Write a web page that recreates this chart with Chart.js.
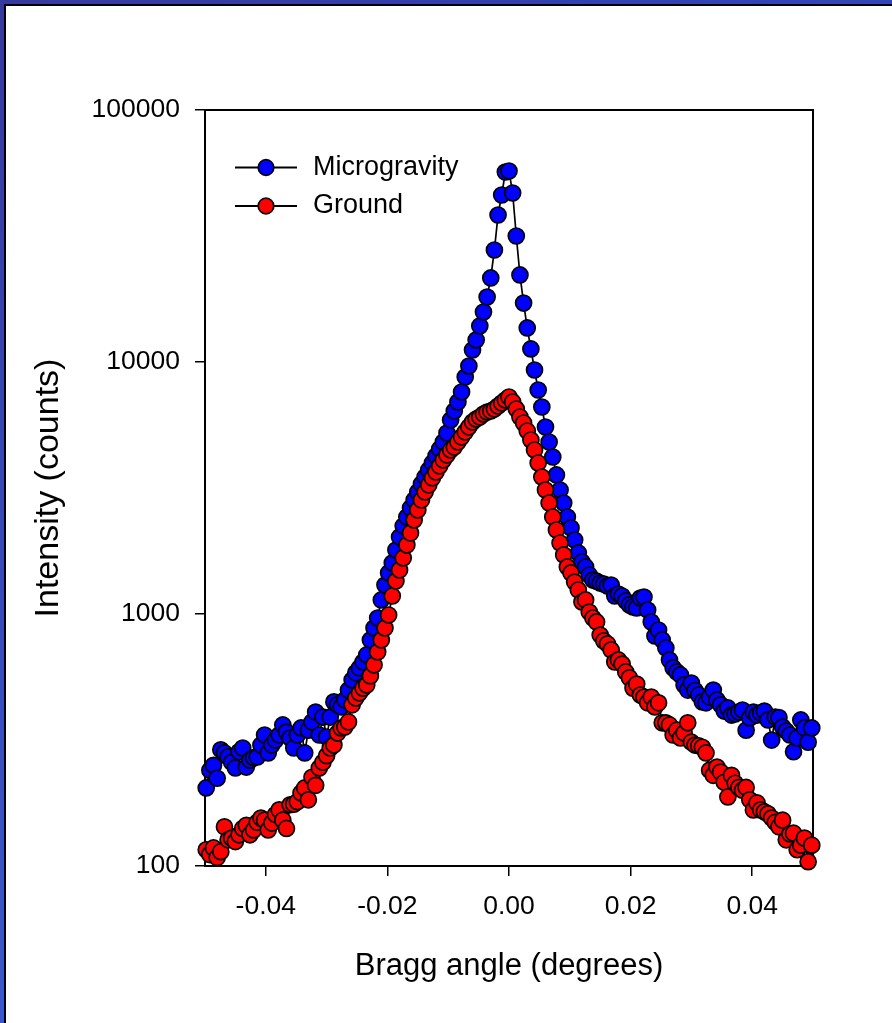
<!DOCTYPE html>
<html>
<head>
<meta charset="utf-8">
<script src="https://cdn.jsdelivr.net/npm/chart.js@4/dist/chart.umd.min.js"></script>
<style>
html,body{margin:0;padding:0;background:#fff;width:892px;height:1023px;overflow:hidden;}
#frameTop{position:absolute;left:0;top:0;width:892px;height:4px;background:linear-gradient(to right,#37399c,#3345b8);}
#frameLeft{position:absolute;left:0;top:0;width:4px;height:1023px;background:linear-gradient(to bottom,#37399c,#3a58cc);}
#lineTop{position:absolute;left:4px;top:4px;width:888px;height:2px;background:#000;}
#lineLeft{position:absolute;left:4px;top:4px;width:2px;height:1019px;background:#000;}
#c{position:absolute;left:0;top:0;}
</style>
</head>
<body>
<div id="frameTop"></div><div id="frameLeft"></div><div id="lineTop"></div><div id="lineLeft"></div>
<canvas id="c" width="892" height="1023"></canvas>
<script>
// ---- data ----
const seriesNames = ['Microgravity', 'Ground'];

const braggAngle = [
 -0.0498,-0.0492,-0.0486,-0.0480,-0.0474,-0.0468,-0.0462,-0.0456,-0.0450,-0.0444,
 -0.0438,-0.0432,-0.0426,-0.0420,-0.0414,-0.0408,-0.0402,-0.0396,-0.0390,-0.0384,
 -0.0378,-0.0372,-0.0366,-0.0360,-0.0354,-0.0348,-0.0342,-0.0336,-0.0330,-0.0324,
 -0.0318,-0.0312,-0.0306,-0.0300,-0.0294,-0.0288,-0.0282,-0.0276,-0.0270,-0.0264,
 -0.0258,-0.0252,-0.0246,-0.0240,-0.0234,-0.0228,-0.0222,-0.0216,-0.0210,-0.0204,
 -0.0198,-0.0192,-0.0186,-0.0180,-0.0174,-0.0168,-0.0162,-0.0156,-0.0150,-0.0144,
 -0.0138,-0.0132,-0.0126,-0.0120,-0.0114,-0.0108,-0.0102,-0.0096,-0.0090,-0.0084,
 -0.0078,-0.0072,-0.0066,-0.0060,-0.0054,-0.0048,-0.0042,-0.0036,-0.0030,-0.0024,
 -0.0018,-0.0012,-0.0006,0.0000,0.0006,0.0012,0.0018,0.0024,0.0030,0.0036,
 0.0042,0.0048,0.0054,0.0060,0.0066,0.0072,0.0078,0.0084,0.0090,0.0096,
 0.0102,0.0108,0.0114,0.0120,0.0126,0.0132,0.0138,0.0144,0.0150,0.0156,
 0.0162,0.0168,0.0174,0.0180,0.0186,0.0192,0.0198,0.0204,0.0210,0.0216,
 0.0222,0.0228,0.0234,0.0240,0.0246,0.0252,0.0258,0.0264,0.0270,0.0276,
 0.0282,0.0288,0.0294,0.0300,0.0306,0.0312,0.0318,0.0324,0.0330,0.0336,
 0.0342,0.0348,0.0354,0.0360,0.0366,0.0372,0.0378,0.0384,0.0390,0.0396,
 0.0402,0.0408,0.0414,0.0420,0.0426,0.0432,0.0438,0.0444,0.0450,0.0456,
 0.0462,0.0468,0.0474,0.0480,0.0486,0.0492,0.0498
];

const microgravity = [
 204,240,251,223,289,281,271,258,245,284,
 294,247,263,269,271,302,331,281,302,316,
 331,363,340,322,294,331,353,281,346,373,
 408,331,390,325,390,448,436,428,456,499,
 547,584,611,645,688,789,880,964,1137,1303,
 1455,1594,1795,2021,2234,2426,2635,2834,3049,3280,
 3497,3728,3974,4237,4517,4814,5228,5886,6390,6939,
 7603,8721,9637,11160,12230,13900,15790,18110,21550,27830,
 38320,46000,56750,57270,46850,31630,22150,17140,13650,11270,
 9296,7743,6630,5522,4814,4198,3562,3105,2757,2426,
 2194,1966,1747,1608,1537,1428,1364,1350,1327,1315,
 1291,1303,1179,1200,1179,1127,1086,1067,1057,1157,
 1168,1037,930,818,864,789,733,657,611,589,
 573,523,499,532,497,477,448,444,468,499,
 456,436,412,424,397,401,408,416,346,387,
 408,397,405,412,380,316,390,388,356,343,
 331,284,322,380,353,310,353
];

const ground = [
 116,111,118,108,114,143,127,129,125,133,
 141,145,133,139,149,155,152,139,148,160,
 167,152,141,175,176,180,195,204,183,225,
 209,245,258,274,294,302,337,353,356,373,
 436,464,486,508,523,568,628,707,789,880,
 991,1179,1352,1495,1669,1878,2096,2360,2586,2834,
 3049,3250,3466,3660,3866,4084,4275,4475,4600,4814,
 5040,5276,5522,5780,5941,6050,6217,6332,6390,6510,
 6690,6876,7067,7264,6939,6510,6050,5727,5324,4903,
 4475,3974,3497,3105,2757,2426,2154,1913,1715,1537,
 1455,1339,1245,1116,1137,1018,964,930,825,782,
 761,720,645,657,633,589,558,508,527,477,
 468,444,468,428,444,370,370,363,331,346,
 322,337,370,310,302,300,296,281,240,229,
 247,236,215,188,229,213,205,200,205,183,
 167,178,167,164,161,155,149,143,152,127,
 134,135,116,121,129,104,121
];

const xTickValues = [-0.04, -0.02, 0, 0.02, 0.04];
const xTickLabels = ['-0.04', '-0.02', '0.00', '0.02', '0.04'];
const yTickValues = [100, 1000, 10000, 100000];
const yTickLabels = ['100', '1000', '10000', '100000'];
const xRange = [-0.05, 0.05];
const yRange = [100, 100000];
const xTitle = 'Bragg angle (degrees)';
const yTitle = 'Intensity (counts)';

// ---- styles ----
const BLUE = '#0000ff';
const RED = '#ff0000';
const FONT = '"Liberation Sans", Arial, Helvetica, sans-serif';

Chart.defaults.color = '#000';
Chart.defaults.font.family = FONT;

function pts(ys) { return braggAngle.map((x, i) => ({x: x, y: ys[i]})); }

const framePlugin = {
  id: 'frameBox',
  beforeDatasetsDraw(chart) {
    const {ctx, chartArea: a} = chart;
    ctx.save();
    ctx.strokeStyle = '#000';
    ctx.lineWidth = 2;
    ctx.strokeRect(a.left, a.top, a.right - a.left, a.bottom - a.top);
    ctx.restore();
  }
};

const legendPlugin = {
  id: 'insetLegend',
  afterDatasetsDraw(chart) {
    const {ctx, chartArea: a} = chart;
    const rows = [
      {label: seriesNames[0], fill: BLUE, y: a.top + 57.5},
      {label: seriesNames[1], fill: RED, y: a.top + 96}
    ];
    ctx.save();
    rows.forEach(r => {
      ctx.strokeStyle = '#000';
      ctx.lineWidth = 1.8;
      ctx.beginPath();
      ctx.moveTo(a.left + 30, r.y);
      ctx.lineTo(a.left + 92, r.y);
      ctx.stroke();
      ctx.beginPath();
      ctx.arc(a.left + 61, r.y, 7.8, 0, Math.PI * 2);
      ctx.fillStyle = r.fill;
      ctx.fill();
      ctx.lineWidth = 1.7;
      ctx.stroke();
      ctx.fillStyle = '#000';
      ctx.font = '27px ' + FONT;
      ctx.textAlign = 'left';
      ctx.textBaseline = 'middle';
      ctx.fillText(r.label, a.left + 108, r.y);
    });
    ctx.restore();
  }
};

function ds(label, ys, color, order) {
  return {
    label: label,
    data: pts(ys),
    showLine: true,
    borderColor: '#000',
    borderWidth: 1.7,
    pointRadius: 8,
    pointHoverRadius: 8,
    pointBackgroundColor: color,
    pointBorderColor: '#000',
    pointBorderWidth: 1.7,
    tension: 0,
    clip: false,
    order: order
  };
}

new Chart(document.getElementById('c'), {
  type: 'scatter',
  data: {
    datasets: [
      ds(seriesNames[0], microgravity, BLUE, 1),
      ds(seriesNames[1], ground, RED, 0)
    ]
  },
  options: {
    responsive: false,
    devicePixelRatio: 1,
    animation: false,
    events: [],
    layout: {padding: {top: 110, right: 79, bottom: 0, left: 0}},
    plugins: {legend: {display: false}, tooltip: {enabled: false}, title: {display: false}},
    scales: {
      x: {
        type: 'linear',
        position: 'bottom',
        min: xRange[0], max: xRange[1],
        afterBuildTicks: s => { s.ticks = xTickValues.map(v => ({value: v})); },
        afterFit: s => { s.height = 157; },
        ticks: {
          autoSkip: false, maxRotation: 0, minRotation: 0, padding: 15,
          font: {size: 26.5, family: FONT}, color: '#000',
          callback: (v) => { const k = xTickValues.findIndex(t => Math.abs(t - v) < 1e-9); return k >= 0 ? xTickLabels[k] : ''; }
        },
        grid: {display: true, drawOnChartArea: false, drawTicks: true, tickLength: 10, color: '#000', lineWidth: 1.5},
        border: {display: true, color: '#000', width: 2},
        title: {display: true, text: xTitle, color: '#000', font: {size: 31, family: FONT}, padding: {top: 0, bottom: 37.5}}
      },
      y: {
        type: 'logarithmic',
        position: 'left',
        min: yRange[0], max: yRange[1],
        afterBuildTicks: s => { s.ticks = yTickValues.map(v => ({value: v, major: true})); },
        afterFit: s => { s.width = 205; },
        ticks: {
          autoSkip: false, padding: 15,
          font: {size: 26.5, family: FONT}, color: '#000',
          callback: (v) => { const k = yTickValues.indexOf(v); return k >= 0 ? yTickLabels[k] : ''; }
        },
        grid: {display: true, drawOnChartArea: false, drawTicks: true, tickLength: 10, color: '#000', lineWidth: 1.5},
        border: {display: true, color: '#000', width: 2},
        title: {display: true, text: yTitle, color: '#000', font: {size: 34, family: FONT}, padding: {top: 28.5, bottom: 0}}
      }
    }
  },
  plugins: [framePlugin, legendPlugin]
});
</script>
</body>
</html>
